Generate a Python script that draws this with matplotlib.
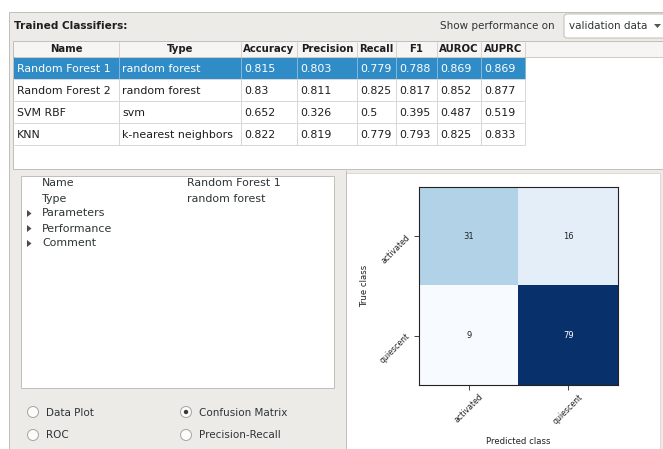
import matplotlib
matplotlib.use("Agg")
import matplotlib.pyplot as plt
from matplotlib.patches import Rectangle, Circle, Polygon, FancyBboxPatch
import numpy as np

plt.rcParams['font.family'] = ['DejaVu Sans']

# ---------------- data ----------------
columns = ['Name', 'Type', 'Accuracy', 'Precision', 'Recall', 'F1', 'AUROC', 'AUPRC']
names = ['Random Forest 1', 'Random Forest 2', 'SVM RBF', 'KNN']
types = ['random forest', 'random forest', 'svm', 'k-nearest neighbors']
accuracy = [0.815, 0.83, 0.652, 0.822]
precision = [0.803, 0.811, 0.326, 0.819]
recall = [0.779, 0.825, 0.5, 0.779]
f1 = [0.788, 0.817, 0.395, 0.793]
auroc = [0.869, 0.852, 0.487, 0.825]
auprc = [0.869, 0.877, 0.519, 0.833]
selected_row = 0

tree_keys = ['Name', 'Type', 'Parameters', 'Performance', 'Comment']
tree_values = ['Random Forest 1', 'random forest', '', '', '']
tree_expandable = [False, False, True, True, True]

radio_labels = ['Data Plot', 'Confusion Matrix', 'ROC', 'Precision-Recall']
radio_checked = 'Confusion Matrix'

classes = ['activated', 'quiescent']
cm = np.array([[31, 16],
               [9, 79]])

# ---------------- layout / styles ----------------
W, H = 663, 449
GRAY = '#edebe8'
BORDER = '#c2beb8'
GRID = '#d9d9d9'
SEL = '#308cc6'
TXT = '#2e3436'
FS = 7.9
FS_SMALL = 7.5

fig = plt.figure(figsize=(W / 100, H / 100), dpi=100)
fig.patch.set_facecolor('white')
ax = fig.add_axes([0, 0, 1, 1])
ax.set_xlim(0, W)
ax.set_ylim(H, 0)
ax.axis('off')

def rect(x0, y0, x1, y1, fc, ec='none', lw=0.72, z=1):
    ax.add_patch(Rectangle((x0, y0), x1 - x0, y1 - y0, facecolor=fc,
                           edgecolor=ec, linewidth=lw, zorder=z))

def hline(y, x0, x1, c=GRID, z=3):
    ax.plot([x0, x1], [y, y], color=c, lw=0.72, zorder=z, solid_capstyle='butt')

def vline(x, y0, y1, c=GRID, z=3):
    ax.plot([x, x], [y0, y1], color=c, lw=0.72, zorder=z, solid_capstyle='butt')

# main gray panel
rect(9, 12, W + 2, H + 2, GRAY, BORDER, z=0)

# top bar
ax.text(14, 26, 'Trained Classifiers:', fontsize=7.6, fontweight='bold',
        color='#1e1e1e', va='center', ha='left')
ax.text(555, 26, 'Show performance on', fontsize=FS_SMALL, color=TXT,
        va='center', ha='right')
ax.add_patch(FancyBboxPatch((564, 14), 110, 24,
                            boxstyle='round,pad=0,rounding_size=3',
                            facecolor='white', edgecolor=BORDER, lw=0.72, zorder=2))
ax.text(569, 26, 'validation data', fontsize=FS_SMALL, color=TXT, va='center', ha='left', zorder=3)
ax.add_patch(Polygon([[654, 24], [661, 24], [657.5, 28]], closed=True,
                     facecolor='#555753', edgecolor='none', zorder=3))

# table widget
col_edges = [14, 119, 241, 297, 357, 396, 437, 481, 525]
header_top, header_bot = 41, 57
row_h = 22
table_bot = 169
rect(13, header_top, W + 2, table_bot, 'white', BORDER, z=1)
rect(14, header_top + 0.5, W + 2, header_bot, '#f6f5f4', z=2)
hline(header_bot, 14, W, c='#cfcdca')
for x in col_edges[1:]:
    vline(x, header_top + 1, header_bot, c='#d6d3cf')
for j, c in enumerate(columns):
    ax.text((col_edges[j] + col_edges[j + 1]) / 2, (header_top + header_bot) / 2 + 0.5,
            c, fontsize=7.3, fontweight='bold', color='#1e1e1e',
            ha='center', va='center', zorder=4)

cols_data = [names, types, accuracy, precision, recall, f1, auroc, auprc]
n_rows = len(names)
for i in range(n_rows):
    y0 = header_bot + i * row_h
    y1 = y0 + row_h
    sel = (i == selected_row)
    if sel:
        rect(col_edges[0], y0, col_edges[-1], y1, SEL, z=2)
    hline(y1, col_edges[0], col_edges[-1], c='#d8d8d8')
    for x in col_edges[1:]:
        vline(x, y0, y1, c='#d8d8d8' if not sel else '#7fb6dc')
    for j in range(len(columns)):
        v = cols_data[j][i]
        s = v if isinstance(v, str) else f'{v:g}'
        ax.text(col_edges[j] + 3, (y0 + y1) / 2 + 0.5, s, fontsize=FS,
                color='white' if sel else '#1e1e1e', ha='left', va='center', zorder=4)

# lower-left property box
rect(21, 176, 334, 388, 'white', BORDER, z=1)
tree_y0, tree_dy = 183.5, 15
for k, (key, val, exp) in enumerate(zip(tree_keys, tree_values, tree_expandable)):
    y = tree_y0 + k * tree_dy
    ax.text(42, y, key, fontsize=FS, color=TXT, ha='left', va='center', zorder=4)
    if val:
        ax.text(187, y, val, fontsize=FS, color=TXT, ha='left', va='center', zorder=4)
    if exp:
        ax.add_patch(Polygon([[27, y - 3.5], [27, y + 3.5], [31.5, y]], closed=True,
                             facecolor='#4a4a4a', edgecolor='none', zorder=4))

# radio buttons
radio_pos = [(33, 412), (186, 412), (33, 435), (186, 435)]
for lab, (cx, cy) in zip(radio_labels, radio_pos):
    ax.add_patch(Circle((cx, cy), 5.5, facecolor='#fbfbfa', edgecolor='#a9a6a1',
                        lw=0.72, zorder=3))
    if lab == radio_checked:
        ax.add_patch(Circle((cx, cy), 2.2, facecolor='#3a3a3a', edgecolor='none', zorder=4))
    ax.text(cx + 13, cy + 0.5, lab, fontsize=FS_SMALL, color=TXT, ha='left', va='center', zorder=4)

# panel separator
vline(346, 170, H, c=BORDER)

# plot canvas
rect(346, 173, 660, H + 2, 'white', '#dcdad6', z=1)

# ---------------- confusion matrix ----------------
l, r, t, b = 419, 618, 187, 385
cax = fig.add_axes([l / W, 1 - b / H, (r - l) / W, (b - t) / H])
cax.imshow(cm, cmap='Blues', interpolation='nearest', aspect='auto')
ticks = np.arange(len(classes))
cax.set_xticks(ticks)
cax.set_xticklabels(classes, rotation=45, fontsize=5.7)
cax.set_yticks(ticks)
cax.set_yticklabels(classes, rotation=45, fontsize=5.7)
cax.tick_params(length=3.3, width=0.6, pad=2, colors='#222222')
for sp in cax.spines.values():
    sp.set_linewidth(0.8)
    sp.set_color('#222222')
thresh = cm.max() / 2.0
for i in range(cm.shape[0]):
    for j in range(cm.shape[1]):
        cax.text(j, i, f'{cm[i, j]}', ha='center', va='center', fontsize=6,
                 color='white' if cm[i, j] > thresh else '#222222')
cax.set_ylabel('True class', fontsize=6.1, color='#222222')
cax.set_xlabel('Predicted class', fontsize=6.1, color='#222222')
cax.yaxis.set_label_coords(-(l - 369) / (r - l), 0.5)
cax.xaxis.set_label_coords(0.5, -(437 - b) / (b - t))

fig.savefig('out.png', dpi=100, facecolor='white')
